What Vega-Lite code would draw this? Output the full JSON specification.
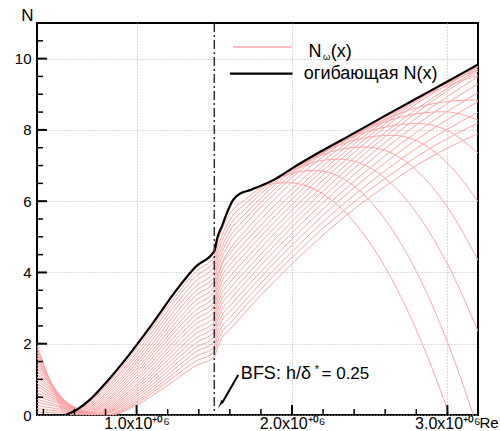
{
"$schema":"https://vega.github.io/schema/vega-lite/v6.json",
"width":441,"height":392,
"autosize":{"type":"none"},
"padding":{"left":37,"top":23,"right":22,"bottom":16},
"background":"white",
"config":{"view":{"stroke":"black","strokeWidth":2},
"axis":{"labelFont":"Liberation Sans","titleFont":"Liberation Sans","labelColor":"#000","titleColor":"#000","titleFontWeight":"normal","tickColor":"#000"}},
"datasets":{
"curves":[
{"c":0,"x":0.36,"n":1.95},{"c":0,"x":0.42,"n":1.21},{"c":0,"x":0.48,"n":0.56},{"c":0,"x":0.55,"n":0},{"c":0,"x":0.62,"n":0.16},{"c":0,"x":0.7,"n":0.43},{"c":0,"x":0.8,"n":0.89},{"c":0,"x":0.95,"n":1.68},{"c":0,"x":1.1,"n":2.55},{"c":0,"x":1.25,"n":3.47},{"c":0,"x":1.38,"n":4.16},{"c":0,"x":1.5,"n":4.6},{"c":0,"x":1.52,"n":4.98},{"c":0,"x":1.55,"n":5.31},{"c":0,"x":1.6,"n":5.84},{"c":0,"x":1.7,"n":6.27},{"c":0,"x":1.8,"n":6.42},{"c":0,"x":1.9,"n":6.5},{"c":0,"x":1.97,"n":6.52},{"c":0,"x":2.05,"n":6.48},{"c":0,"x":2.2,"n":6.2},{"c":0,"x":2.4,"n":5.41},{"c":0,"x":2.6,"n":4.14},{"c":0,"x":2.8,"n":2.39},{"c":0,"x":3.0,"n":0.15},{"c":0,"x":3.2,"n":-2.56},
{"c":1,"x":0.36,"n":1.86},{"c":1,"x":0.42,"n":1.2},{"c":1,"x":0.48,"n":0.61},{"c":1,"x":0.55,"n":0.07},{"c":1,"x":0.564,"n":0},{"c":1,"x":0.62,"n":0.12},{"c":1,"x":0.7,"n":0.37},{"c":1,"x":0.8,"n":0.81},{"c":1,"x":0.95,"n":1.58},{"c":1,"x":1.1,"n":2.44},{"c":1,"x":1.25,"n":3.34},{"c":1,"x":1.38,"n":4.02},{"c":1,"x":1.5,"n":4.46},{"c":1,"x":1.52,"n":4.83},{"c":1,"x":1.55,"n":5.22},{"c":1,"x":1.6,"n":5.64},{"c":1,"x":1.7,"n":6.05},{"c":1,"x":1.8,"n":6.38},{"c":1,"x":1.9,"n":6.62},{"c":1,"x":2.05,"n":6.83},{"c":1,"x":2.14,"n":6.86},{"c":1,"x":2.2,"n":6.84},{"c":1,"x":2.4,"n":6.42},{"c":1,"x":2.6,"n":5.48},{"c":1,"x":2.8,"n":4.03},{"c":1,"x":3.0,"n":2.05},{"c":1,"x":3.2,"n":-0.44},
{"c":2,"x":0.36,"n":1.77},{"c":2,"x":0.42,"n":1.19},{"c":2,"x":0.48,"n":0.65},{"c":2,"x":0.55,"n":0.14},{"c":2,"x":0.578,"n":0},{"c":2,"x":0.62,"n":0.09},{"c":2,"x":0.7,"n":0.32},{"c":2,"x":0.8,"n":0.74},{"c":2,"x":0.95,"n":1.48},{"c":2,"x":1.1,"n":2.33},{"c":2,"x":1.25,"n":3.22},{"c":2,"x":1.38,"n":3.89},{"c":2,"x":1.5,"n":4.32},{"c":2,"x":1.52,"n":4.67},{"c":2,"x":1.55,"n":5.04},{"c":2,"x":1.6,"n":5.48},{"c":2,"x":1.7,"n":5.93},{"c":2,"x":1.8,"n":6.31},{"c":2,"x":1.9,"n":6.62},{"c":2,"x":2.05,"n":6.96},{"c":2,"x":2.2,"n":7.15},{"c":2,"x":2.3,"n":7.18},{"c":2,"x":2.4,"n":7.12},{"c":2,"x":2.6,"n":6.64},{"c":2,"x":2.8,"n":5.68},{"c":2,"x":3.0,"n":4.24},{"c":2,"x":3.2,"n":2.32},
{"c":3,"x":0.36,"n":1.68},{"c":3,"x":0.42,"n":1.16},{"c":3,"x":0.48,"n":0.67},{"c":3,"x":0.55,"n":0.19},{"c":3,"x":0.591,"n":0},{"c":3,"x":0.62,"n":0.06},{"c":3,"x":0.7,"n":0.27},{"c":3,"x":0.8,"n":0.67},{"c":3,"x":0.95,"n":1.4},{"c":3,"x":1.1,"n":2.22},{"c":3,"x":1.25,"n":3.09},{"c":3,"x":1.38,"n":3.75},{"c":3,"x":1.5,"n":4.18},{"c":3,"x":1.52,"n":4.52},{"c":3,"x":1.55,"n":4.89},{"c":3,"x":1.6,"n":5.32},{"c":3,"x":1.7,"n":5.79},{"c":3,"x":1.8,"n":6.21},{"c":3,"x":1.9,"n":6.57},{"c":3,"x":2.05,"n":7.01},{"c":3,"x":2.2,"n":7.31},{"c":3,"x":2.4,"n":7.51},{"c":3,"x":2.47,"n":7.52},{"c":3,"x":2.6,"n":7.42},{"c":3,"x":2.8,"n":6.87},{"c":3,"x":3.0,"n":5.83},{"c":3,"x":3.2,"n":4.32},
{"c":4,"x":0.36,"n":1.6},{"c":4,"x":0.42,"n":1.12},{"c":4,"x":0.48,"n":0.69},{"c":4,"x":0.55,"n":0.25},{"c":4,"x":0.605,"n":0},{"c":4,"x":0.62,"n":0.03},{"c":4,"x":0.7,"n":0.22},{"c":4,"x":0.8,"n":0.6},{"c":4,"x":0.95,"n":1.3},{"c":4,"x":1.1,"n":2.11},{"c":4,"x":1.25,"n":2.97},{"c":4,"x":1.38,"n":3.61},{"c":4,"x":1.5,"n":4.03},{"c":4,"x":1.52,"n":4.37},{"c":4,"x":1.55,"n":4.72},{"c":4,"x":1.6,"n":5.16},{"c":4,"x":1.7,"n":5.65},{"c":4,"x":1.8,"n":6.09},{"c":4,"x":1.9,"n":6.49},{"c":4,"x":2.05,"n":6.98},{"c":4,"x":2.2,"n":7.37},{"c":4,"x":2.4,"n":7.71},{"c":4,"x":2.64,"n":7.85},{"c":4,"x":2.8,"n":7.7},{"c":4,"x":3.0,"n":7.07},{"c":4,"x":3.2,"n":5.97},
{"c":5,"x":0.36,"n":1.51},{"c":5,"x":0.42,"n":1.08},{"c":5,"x":0.48,"n":0.69},{"c":5,"x":0.55,"n":0.29},{"c":5,"x":0.62,"n":0},{"c":5,"x":0.7,"n":0.18},{"c":5,"x":0.8,"n":0.53},{"c":5,"x":0.95,"n":1.22},{"c":5,"x":1.1,"n":2.0},{"c":5,"x":1.25,"n":2.84},{"c":5,"x":1.38,"n":3.48},{"c":5,"x":1.5,"n":3.89},{"c":5,"x":1.52,"n":4.22},{"c":5,"x":1.55,"n":4.58},{"c":5,"x":1.6,"n":5.0},{"c":5,"x":1.7,"n":5.51},{"c":5,"x":1.8,"n":5.97},{"c":5,"x":1.9,"n":6.38},{"c":5,"x":2.05,"n":6.93},{"c":5,"x":2.2,"n":7.37},{"c":5,"x":2.4,"n":7.82},{"c":5,"x":2.6,"n":8.08},{"c":5,"x":2.81,"n":8.18},{"c":5,"x":3.0,"n":7.98},{"c":5,"x":3.2,"n":7.34},
{"c":6,"x":0.36,"n":1.42},{"c":6,"x":0.42,"n":1.04},{"c":6,"x":0.48,"n":0.69},{"c":6,"x":0.55,"n":0.32},{"c":6,"x":0.62,"n":0.03},{"c":6,"x":0.633,"n":0},{"c":6,"x":0.7,"n":0.14},{"c":6,"x":0.8,"n":0.47},{"c":6,"x":0.95,"n":1.13},{"c":6,"x":1.1,"n":1.9},{"c":6,"x":1.25,"n":2.72},{"c":6,"x":1.38,"n":3.35},{"c":6,"x":1.5,"n":3.75},{"c":6,"x":1.52,"n":4.08},{"c":6,"x":1.55,"n":4.43},{"c":6,"x":1.6,"n":4.85},{"c":6,"x":1.7,"n":5.36},{"c":6,"x":1.8,"n":5.84},{"c":6,"x":1.9,"n":6.27},{"c":6,"x":2.05,"n":6.85},{"c":6,"x":2.2,"n":7.34},{"c":6,"x":2.4,"n":7.86},{"c":6,"x":2.6,"n":8.23},{"c":6,"x":2.8,"n":8.45},{"c":6,"x":2.98,"n":8.51},{"c":6,"x":3.2,"n":8.27},
{"c":7,"x":0.36,"n":1.33},{"c":7,"x":0.42,"n":0.99},{"c":7,"x":0.48,"n":0.68},{"c":7,"x":0.55,"n":0.34},{"c":7,"x":0.62,"n":0.07},{"c":7,"x":0.647,"n":0},{"c":7,"x":0.7,"n":0.1},{"c":7,"x":0.8,"n":0.4},{"c":7,"x":0.95,"n":1.05},{"c":7,"x":1.1,"n":1.79},{"c":7,"x":1.25,"n":2.59},{"c":7,"x":1.38,"n":3.21},{"c":7,"x":1.5,"n":3.61},{"c":7,"x":1.52,"n":3.92},{"c":7,"x":1.55,"n":4.27},{"c":7,"x":1.6,"n":4.65},{"c":7,"x":1.7,"n":5.17},{"c":7,"x":1.8,"n":5.66},{"c":7,"x":1.9,"n":6.11},{"c":7,"x":2.05,"n":6.72},{"c":7,"x":2.2,"n":7.25},{"c":7,"x":2.4,"n":7.85},{"c":7,"x":2.6,"n":8.3},{"c":7,"x":2.8,"n":8.62},{"c":7,"x":3.0,"n":8.8},{"c":7,"x":3.16,"n":8.84},{"c":7,"x":3.2,"n":8.83},
{"c":8,"x":0.36,"n":1.24},{"c":8,"x":0.42,"n":0.94},{"c":8,"x":0.48,"n":0.66},{"c":8,"x":0.55,"n":0.35},{"c":8,"x":0.62,"n":0.1},{"c":8,"x":0.66,"n":0},{"c":8,"x":0.7,"n":0.07},{"c":8,"x":0.8,"n":0.35},{"c":8,"x":0.95,"n":0.97},{"c":8,"x":1.1,"n":1.7},{"c":8,"x":1.25,"n":2.47},{"c":8,"x":1.38,"n":3.08},{"c":8,"x":1.5,"n":3.47},{"c":8,"x":1.52,"n":3.82},{"c":8,"x":1.55,"n":4.22},{"c":8,"x":1.6,"n":4.54},{"c":8,"x":1.7,"n":5.03},{"c":8,"x":1.8,"n":5.49},{"c":8,"x":1.9,"n":5.93},{"c":8,"x":2.05,"n":6.55},{"c":8,"x":2.2,"n":7.12},{"c":8,"x":2.4,"n":7.79},{"c":8,"x":2.6,"n":8.37},{"c":8,"x":2.8,"n":8.85},{"c":8,"x":3.0,"n":9.24},{"c":8,"x":3.2,"n":9.54},
{"c":9,"x":0.36,"n":1.15},{"c":9,"x":0.42,"n":0.88},{"c":9,"x":0.48,"n":0.63},{"c":9,"x":0.55,"n":0.36},{"c":9,"x":0.62,"n":0.13},{"c":9,"x":0.674,"n":0},{"c":9,"x":0.7,"n":0.04},{"c":9,"x":0.8,"n":0.3},{"c":9,"x":0.95,"n":0.89},{"c":9,"x":1.1,"n":1.6},{"c":9,"x":1.25,"n":2.35},{"c":9,"x":1.38,"n":2.94},{"c":9,"x":1.5,"n":3.33},{"c":9,"x":1.52,"n":3.67},{"c":9,"x":1.55,"n":4.06},{"c":9,"x":1.6,"n":4.37},{"c":9,"x":1.7,"n":4.86},{"c":9,"x":1.8,"n":5.33},{"c":9,"x":1.9,"n":5.78},{"c":9,"x":2.05,"n":6.41},{"c":9,"x":2.2,"n":6.99},{"c":9,"x":2.4,"n":7.7},{"c":9,"x":2.6,"n":8.32},{"c":9,"x":2.8,"n":8.86},{"c":9,"x":3.0,"n":9.32},{"c":9,"x":3.2,"n":9.69},
{"c":10,"x":0.36,"n":1.06},{"c":10,"x":0.42,"n":0.83},{"c":10,"x":0.48,"n":0.6},{"c":10,"x":0.55,"n":0.36},{"c":10,"x":0.62,"n":0.15},{"c":10,"x":0.688,"n":0},{"c":10,"x":0.7,"n":0.02},{"c":10,"x":0.8,"n":0.25},{"c":10,"x":0.95,"n":0.81},{"c":10,"x":1.1,"n":1.49},{"c":10,"x":1.25,"n":2.23},{"c":10,"x":1.38,"n":2.81},{"c":10,"x":1.5,"n":3.19},{"c":10,"x":1.52,"n":3.52},{"c":10,"x":1.55,"n":3.9},{"c":10,"x":1.6,"n":4.21},{"c":10,"x":1.7,"n":4.7},{"c":10,"x":1.8,"n":5.17},{"c":10,"x":1.9,"n":5.62},{"c":10,"x":2.05,"n":6.27},{"c":10,"x":2.2,"n":6.87},{"c":10,"x":2.4,"n":7.6},{"c":10,"x":2.6,"n":8.26},{"c":10,"x":2.8,"n":8.84},{"c":10,"x":3.0,"n":9.35},{"c":10,"x":3.2,"n":9.78},
{"c":11,"x":0.36,"n":0.98},{"c":11,"x":0.42,"n":0.77},{"c":11,"x":0.48,"n":0.57},{"c":11,"x":0.55,"n":0.35},{"c":11,"x":0.62,"n":0.16},{"c":11,"x":0.7,"n":0},{"c":11,"x":0.8,"n":0.2},{"c":11,"x":0.95,"n":0.74},{"c":11,"x":1.1,"n":1.4},{"c":11,"x":1.25,"n":2.11},{"c":11,"x":1.38,"n":2.68},{"c":11,"x":1.5,"n":3.05},{"c":11,"x":1.52,"n":3.38},{"c":11,"x":1.55,"n":3.75},{"c":11,"x":1.6,"n":4.05},{"c":11,"x":1.7,"n":4.54},{"c":11,"x":1.8,"n":5.02},{"c":11,"x":1.9,"n":5.47},{"c":11,"x":2.05,"n":6.12},{"c":11,"x":2.2,"n":6.74},{"c":11,"x":2.4,"n":7.49},{"c":11,"x":2.6,"n":8.18},{"c":11,"x":2.8,"n":8.8},{"c":11,"x":3.0,"n":9.33},{"c":11,"x":3.2,"n":9.8},
{"c":12,"x":0.36,"n":0.89},{"c":12,"x":0.42,"n":0.7},{"c":12,"x":0.48,"n":0.53},{"c":12,"x":0.55,"n":0.34},{"c":12,"x":0.62,"n":0.17},{"c":12,"x":0.7,"n":0.02},{"c":12,"x":0.716,"n":0},{"c":12,"x":0.8,"n":0.16},{"c":12,"x":0.95,"n":0.66},{"c":12,"x":1.1,"n":1.3},{"c":12,"x":1.25,"n":1.99},{"c":12,"x":1.38,"n":2.55},{"c":12,"x":1.5,"n":2.9},{"c":12,"x":1.52,"n":3.23},{"c":12,"x":1.55,"n":3.59},{"c":12,"x":1.6,"n":3.88},{"c":12,"x":1.7,"n":4.37},{"c":12,"x":1.8,"n":4.85},{"c":12,"x":1.9,"n":5.31},{"c":12,"x":2.05,"n":5.97},{"c":12,"x":2.2,"n":6.59},{"c":12,"x":2.4,"n":7.37},{"c":12,"x":2.6,"n":8.08},{"c":12,"x":2.8,"n":8.73},{"c":12,"x":3.0,"n":9.27},{"c":12,"x":3.2,"n":9.76},
{"c":13,"x":0.36,"n":0.8},{"c":13,"x":0.42,"n":0.64},{"c":13,"x":0.48,"n":0.49},{"c":13,"x":0.55,"n":0.32},{"c":13,"x":0.62,"n":0.17},{"c":13,"x":0.7,"n":0.03},{"c":13,"x":0.729,"n":0},{"c":13,"x":0.8,"n":0.12},{"c":13,"x":0.95,"n":0.6},{"c":13,"x":1.1,"n":1.21},{"c":13,"x":1.25,"n":1.88},{"c":13,"x":1.38,"n":2.41},{"c":13,"x":1.5,"n":2.76},{"c":13,"x":1.52,"n":3.08},{"c":13,"x":1.55,"n":3.43},{"c":13,"x":1.6,"n":3.72},{"c":13,"x":1.7,"n":4.21},{"c":13,"x":1.8,"n":4.69},{"c":13,"x":1.9,"n":5.15},{"c":13,"x":2.05,"n":5.81},{"c":13,"x":2.2,"n":6.44},{"c":13,"x":2.4,"n":7.22},{"c":13,"x":2.6,"n":7.93},{"c":13,"x":2.8,"n":8.58},{"c":13,"x":3.0,"n":9.17},{"c":13,"x":3.2,"n":9.7},
{"c":14,"x":0.36,"n":0.71},{"c":14,"x":0.42,"n":0.57},{"c":14,"x":0.48,"n":0.44},{"c":14,"x":0.55,"n":0.3},{"c":14,"x":0.62,"n":0.17},{"c":14,"x":0.7,"n":0.05},{"c":14,"x":0.743,"n":0},{"c":14,"x":0.8,"n":0.09},{"c":14,"x":0.95,"n":0.53},{"c":14,"x":1.1,"n":1.12},{"c":14,"x":1.25,"n":1.76},{"c":14,"x":1.38,"n":2.28},{"c":14,"x":1.5,"n":2.62},{"c":14,"x":1.52,"n":2.93},{"c":14,"x":1.55,"n":3.27},{"c":14,"x":1.6,"n":3.55},{"c":14,"x":1.7,"n":4.04},{"c":14,"x":1.8,"n":4.52},{"c":14,"x":1.9,"n":4.98},{"c":14,"x":2.05,"n":5.65},{"c":14,"x":2.2,"n":6.28},{"c":14,"x":2.4,"n":7.08},{"c":14,"x":2.6,"n":7.81},{"c":14,"x":2.8,"n":8.48},{"c":14,"x":3.0,"n":9.1},{"c":14,"x":3.2,"n":9.65},
{"c":15,"x":0.36,"n":0.62},{"c":15,"x":0.42,"n":0.51},{"c":15,"x":0.48,"n":0.4},{"c":15,"x":0.55,"n":0.28},{"c":15,"x":0.62,"n":0.16},{"c":15,"x":0.7,"n":0.06},{"c":15,"x":0.757,"n":0},{"c":15,"x":0.8,"n":0.06},{"c":15,"x":0.95,"n":0.47},{"c":15,"x":1.1,"n":1.03},{"c":15,"x":1.25,"n":1.64},{"c":15,"x":1.38,"n":2.15},{"c":15,"x":1.5,"n":2.48},{"c":15,"x":1.52,"n":2.78},{"c":15,"x":1.55,"n":3.12},{"c":15,"x":1.6,"n":3.39},{"c":15,"x":1.7,"n":3.88},{"c":15,"x":1.8,"n":4.36},{"c":15,"x":1.9,"n":4.82},{"c":15,"x":2.05,"n":5.49},{"c":15,"x":2.2,"n":6.12},{"c":15,"x":2.4,"n":6.92},{"c":15,"x":2.6,"n":7.65},{"c":15,"x":2.8,"n":8.33},{"c":15,"x":3.0,"n":8.94},{"c":15,"x":3.2,"n":9.5},
{"c":16,"x":0.36,"n":0.53},{"c":16,"x":0.42,"n":0.44},{"c":16,"x":0.48,"n":0.35},{"c":16,"x":0.55,"n":0.25},{"c":16,"x":0.62,"n":0.15},{"c":16,"x":0.7,"n":0.06},{"c":16,"x":0.771,"n":0},{"c":16,"x":0.8,"n":0.04},{"c":16,"x":0.95,"n":0.41},{"c":16,"x":1.1,"n":0.94},{"c":16,"x":1.25,"n":1.53},{"c":16,"x":1.38,"n":2.02},{"c":16,"x":1.5,"n":2.34},{"c":16,"x":1.52,"n":2.63},{"c":16,"x":1.55,"n":2.96},{"c":16,"x":1.6,"n":3.23},{"c":16,"x":1.7,"n":3.72},{"c":16,"x":1.8,"n":4.2},{"c":16,"x":1.9,"n":4.66},{"c":16,"x":2.05,"n":5.33},{"c":16,"x":2.2,"n":5.96},{"c":16,"x":2.4,"n":6.75},{"c":16,"x":2.6,"n":7.48},{"c":16,"x":2.8,"n":8.14},{"c":16,"x":3.0,"n":8.75},{"c":16,"x":3.2,"n":9.3},
{"c":17,"x":0.36,"n":0.44},{"c":17,"x":0.42,"n":0.37},{"c":17,"x":0.48,"n":0.29},{"c":17,"x":0.55,"n":0.21},{"c":17,"x":0.62,"n":0.14},{"c":17,"x":0.7,"n":0.06},{"c":17,"x":0.785,"n":0},{"c":17,"x":0.8,"n":0.02},{"c":17,"x":0.95,"n":0.35},{"c":17,"x":1.1,"n":0.85},{"c":17,"x":1.25,"n":1.42},{"c":17,"x":1.38,"n":1.89},{"c":17,"x":1.5,"n":2.2},{"c":17,"x":1.52,"n":2.48},{"c":17,"x":1.55,"n":2.8},{"c":17,"x":1.6,"n":3.06},{"c":17,"x":1.7,"n":3.55},{"c":17,"x":1.8,"n":4.03},{"c":17,"x":1.9,"n":4.49},{"c":17,"x":2.05,"n":5.15},{"c":17,"x":2.2,"n":5.78},{"c":17,"x":2.4,"n":6.56},{"c":17,"x":2.6,"n":7.28},{"c":17,"x":2.8,"n":7.93},{"c":17,"x":3.0,"n":8.52},{"c":17,"x":3.2,"n":9.05},
{"c":18,"x":0.36,"n":0.36},{"c":18,"x":0.42,"n":0.3},{"c":18,"x":0.48,"n":0.24},{"c":18,"x":0.55,"n":0.17},{"c":18,"x":0.62,"n":0.12},{"c":18,"x":0.7,"n":0.05},{"c":18,"x":0.8,"n":0},{"c":18,"x":0.95,"n":0.3},{"c":18,"x":1.1,"n":0.77},{"c":18,"x":1.25,"n":1.31},{"c":18,"x":1.38,"n":1.77},{"c":18,"x":1.5,"n":2.06},{"c":18,"x":1.52,"n":2.33},{"c":18,"x":1.55,"n":2.65},{"c":18,"x":1.6,"n":2.9},{"c":18,"x":1.7,"n":3.39},{"c":18,"x":1.8,"n":3.87},{"c":18,"x":1.9,"n":4.33},{"c":18,"x":2.05,"n":4.98},{"c":18,"x":2.2,"n":5.61},{"c":18,"x":2.4,"n":6.38},{"c":18,"x":2.6,"n":7.08},{"c":18,"x":2.8,"n":7.72},{"c":18,"x":3.0,"n":8.29},{"c":18,"x":3.2,"n":8.8},
{"c":19,"x":0.36,"n":0.27},{"c":19,"x":0.42,"n":0.22},{"c":19,"x":0.48,"n":0.18},{"c":19,"x":0.55,"n":0.14},{"c":19,"x":0.62,"n":0.09},{"c":19,"x":0.7,"n":0.05},{"c":19,"x":0.812,"n":0},{"c":19,"x":0.95,"n":0.25},{"c":19,"x":1.1,"n":0.69},{"c":19,"x":1.25,"n":1.2},{"c":19,"x":1.38,"n":1.64},{"c":19,"x":1.5,"n":1.91},{"c":19,"x":1.52,"n":2.18},{"c":19,"x":1.55,"n":2.48},{"c":19,"x":1.6,"n":2.73},{"c":19,"x":1.7,"n":3.22},{"c":19,"x":1.8,"n":3.7},{"c":19,"x":1.9,"n":4.15},{"c":19,"x":2.05,"n":4.8},{"c":19,"x":2.2,"n":5.42},{"c":19,"x":2.4,"n":6.17},{"c":19,"x":2.6,"n":6.86},{"c":19,"x":2.8,"n":7.48},{"c":19,"x":3.0,"n":8.02},{"c":19,"x":3.2,"n":8.5},
{"c":20,"x":0.36,"n":0.18},{"c":20,"x":0.42,"n":0.15},{"c":20,"x":0.48,"n":0.12},{"c":20,"x":0.55,"n":0.09},{"c":20,"x":0.62,"n":0.06},{"c":20,"x":0.7,"n":0.03},{"c":20,"x":0.826,"n":0},{"c":20,"x":0.95,"n":0.21},{"c":20,"x":1.1,"n":0.62},{"c":20,"x":1.25,"n":1.1},{"c":20,"x":1.38,"n":1.51},{"c":20,"x":1.5,"n":1.77},{"c":20,"x":1.52,"n":2.04},{"c":20,"x":1.55,"n":2.33},{"c":20,"x":1.6,"n":2.57},{"c":20,"x":1.7,"n":3.06},{"c":20,"x":1.8,"n":3.53},{"c":20,"x":1.9,"n":3.99},{"c":20,"x":2.05,"n":4.63},{"c":20,"x":2.2,"n":5.24},{"c":20,"x":2.4,"n":5.98},{"c":20,"x":2.6,"n":6.64},{"c":20,"x":2.8,"n":7.24},{"c":20,"x":3.0,"n":7.76},{"c":20,"x":3.2,"n":8.2},
{"c":21,"x":0.36,"n":0.09},{"c":21,"x":0.42,"n":0.07},{"c":21,"x":0.48,"n":0.06},{"c":21,"x":0.55,"n":0.05},{"c":21,"x":0.62,"n":0.03},{"c":21,"x":0.7,"n":0.02},{"c":21,"x":0.84,"n":0},{"c":21,"x":0.95,"n":0.17},{"c":21,"x":1.1,"n":0.54},{"c":21,"x":1.25,"n":0.99},{"c":21,"x":1.38,"n":1.38},{"c":21,"x":1.5,"n":1.63},{"c":21,"x":1.52,"n":1.88},{"c":21,"x":1.55,"n":2.17},{"c":21,"x":1.6,"n":2.4},{"c":21,"x":1.7,"n":2.89},{"c":21,"x":1.8,"n":3.36},{"c":21,"x":1.9,"n":3.81},{"c":21,"x":2.05,"n":4.45},{"c":21,"x":2.2,"n":5.05},{"c":21,"x":2.4,"n":5.78},{"c":21,"x":2.6,"n":6.42},{"c":21,"x":2.8,"n":7.0},{"c":21,"x":3.0,"n":7.49},{"c":21,"x":3.2,"n":7.9}
],
"env":[
{"x":0.545,"n":0},{"x":0.62,"n":0.16},{"x":0.7,"n":0.43},{"x":0.8,"n":0.89},{"x":0.95,"n":1.68},{"x":1.1,"n":2.55},{"x":1.25,"n":3.47},{"x":1.38,"n":4.16},{"x":1.5,"n":4.6},{"x":1.52,"n":4.98},{"x":1.55,"n":5.31},{"x":1.58,"n":5.66},{"x":1.62,"n":6.03},{"x":1.66,"n":6.2},{"x":1.73,"n":6.31},{"x":1.8,"n":6.43},{"x":1.9,"n":6.64},{"x":2.0,"n":6.92},{"x":2.2,"n":7.43},{"x":2.4,"n":7.91},{"x":2.6,"n":8.4},{"x":2.8,"n":8.88},{"x":3.0,"n":9.36},{"x":3.2,"n":9.84}
],
"xmaj":[{"v":1},{"v":2},{"v":3}],
"xmin":[{"v":0.4},{"v":0.6},{"v":0.8},{"v":1.2},{"v":1.4},{"v":1.6},{"v":1.8},{"v":2.2},{"v":2.4},{"v":2.6},{"v":2.8}],
"ymaj":[{"v":2},{"v":4},{"v":6},{"v":8},{"v":10}],
"ymin":[{"v":0.5},{"v":1},{"v":1.5},{"v":2.5},{"v":3},{"v":3.5},{"v":4.5},{"v":5},{"v":5.5},{"v":6.5},{"v":7},{"v":7.5},{"v":8.5},{"v":9},{"v":9.5},{"v":10.5}],
"one":[{}]},
"resolve":{"axis":{"x":"independent","y":"independent"}},
"layer":[
{"data":{"name":"curves"},
"mark":{"type":"line","stroke":"#ffa4a4","strokeWidth":1,"interpolate":"monotone","clip":true},
"encoding":{
"x":{"field":"x","type":"quantitative","scale":{"domain":[0.359,3.197],"nice":false,"zero":false},
"axis":{"orient":"bottom","values":[1,2,3],"labelExpr":"format(datum.value,'.1f')+'x10⁺⁰⁶'","labelFontSize":16,"labelPadding":0,"labelFlush":false,"labelOverlap":false,"ticks":false,"domain":false,"grid":true,"gridColor":"#b4b4b4","gridDash":[1,2],"gridWidth":1,"title":"Re","titleFontSize":15,"titleX":442,"titleY":12,"titleAlign":"left","titleBaseline":"alphabetic","titleAnchor":null}},
"y":{"field":"n","type":"quantitative","scale":{"domain":[0,11],"nice":false},
"axis":{"orient":"left","values":[0,2,4,6,8,10],"labelFontSize":15,"labelPadding":6,"ticks":false,"domain":false,"grid":true,"gridColor":"#b4b4b4","gridDash":[1,2],"gridWidth":1,"title":"N","titleAngle":0,"titleFontSize":17,"titleX":-10,"titleY":-3,"titleAlign":"center","titleBaseline":"alphabetic","titleAnchor":null}},
"detail":{"field":"c","type":"nominal"}}},
{"data":{"name":"env"},
"mark":{"type":"line","stroke":"black","strokeWidth":2.2,"interpolate":"monotone","clip":true},
"encoding":{"x":{"field":"x","type":"quantitative","axis":null},"y":{"field":"n","type":"quantitative","axis":null}}},
{"data":{"name":"xmaj"},"mark":{"type":"rule","stroke":"black","strokeWidth":2},
"encoding":{"x":{"field":"v","type":"quantitative","axis":null},"y":{"datum":0,"type":"quantitative","axis":null},"y2":{"datum":0.28}}},
{"data":{"name":"xmin"},"mark":{"type":"rule","stroke":"black","strokeWidth":1.5},
"encoding":{"x":{"field":"v","type":"quantitative","axis":null},"y":{"datum":0,"type":"quantitative","axis":null},"y2":{"datum":0.17}}},
{"data":{"name":"ymaj"},"mark":{"type":"rule","stroke":"black","strokeWidth":2},
"encoding":{"y":{"field":"v","type":"quantitative","axis":null},"x":{"datum":0.359,"type":"quantitative","axis":null},"x2":{"datum":0.423}}},
{"data":{"name":"ymin"},"mark":{"type":"rule","stroke":"black","strokeWidth":1.5},
"encoding":{"y":{"field":"v","type":"quantitative","axis":null},"x":{"datum":0.359,"type":"quantitative","axis":null},"x2":{"datum":0.398}}},
{"data":{"name":"one"},
"mark":{"type":"rule","stroke":"#303030","strokeWidth":1.5,"strokeDash":[9,3,2,3]},
"encoding":{"x":{"datum":1.5,"type":"quantitative","axis":null}}},
{"data":{"name":"one"},
"mark":{"type":"rule","stroke":"black","strokeWidth":2},
"encoding":{"x":{"datum":1.654,"type":"quantitative","axis":null},"y":{"datum":1.12,"type":"quantitative","axis":null},"x2":{"datum":1.549},"y2":{"datum":0.33}}},
{"data":{"name":"one"},
"mark":{"type":"point","shape":"wedge","filled":true,"color":"black","size":110,"angle":210,"opacity":1},
"encoding":{"x":{"datum":1.543,"type":"quantitative","axis":null},"y":{"datum":0.33,"type":"quantitative","axis":null}}},
{"data":{"name":"one"},
"mark":{"type":"text","text":"BFS: h/δ","font":"Liberation Sans","fontSize":18,"align":"left","baseline":"alphabetic","color":"black"},
"encoding":{"x":{"datum":1.671,"type":"quantitative","axis":null},"y":{"datum":1.023,"type":"quantitative","axis":null}}},
{"data":{"name":"one"},
"mark":{"type":"text","text":"*","font":"Liberation Sans","fontSize":11,"align":"left","baseline":"alphabetic","color":"black"},
"encoding":{"x":{"datum":2.146,"type":"quantitative","axis":null},"y":{"datum":1.17,"type":"quantitative","axis":null}}},
{"data":{"name":"one"},
"mark":{"type":"text","text":"= 0.25","font":"Liberation Sans","fontSize":17,"align":"left","baseline":"alphabetic","color":"black"},
"encoding":{"x":{"datum":2.19,"type":"quantitative","axis":null},"y":{"datum":1.023,"type":"quantitative","axis":null}}},
{"data":{"name":"one"},
"mark":{"type":"rule","stroke":"#ffa4a4","strokeWidth":1.5},
"encoding":{"x":{"datum":1.621,"type":"quantitative","axis":null},"x2":{"datum":1.997},"y":{"datum":10.33,"type":"quantitative","axis":null}}},
{"data":{"name":"one"},
"mark":{"type":"rule","stroke":"black","strokeWidth":2.2},
"encoding":{"x":{"datum":1.6,"type":"quantitative","axis":null},"x2":{"datum":2.003},"y":{"datum":9.58,"type":"quantitative","axis":null}}},
{"data":{"name":"one"},
"mark":{"type":"text","text":"N","font":"Liberation Sans","fontSize":18,"align":"left","baseline":"alphabetic","color":"black"},
"encoding":{"x":{"datum":2.106,"type":"quantitative","axis":null},"y":{"datum":10.05,"type":"quantitative","axis":null}}},
{"data":{"name":"one"},
"mark":{"type":"text","text":"ω","font":"Liberation Sans","fontSize":9.5,"align":"left","baseline":"alphabetic","color":"black"},
"encoding":{"x":{"datum":2.2,"type":"quantitative","axis":null},"y":{"datum":9.96,"type":"quantitative","axis":null}}},
{"data":{"name":"one"},
"mark":{"type":"text","text":"(x)","font":"Liberation Sans","fontSize":18,"align":"left","baseline":"alphabetic","color":"black"},
"encoding":{"x":{"datum":2.25,"type":"quantitative","axis":null},"y":{"datum":10.05,"type":"quantitative","axis":null}}},
{"data":{"name":"one"},
"mark":{"type":"text","text":"огибающая N(x)","font":"Liberation Sans","fontSize":18,"align":"left","baseline":"alphabetic","color":"black"},
"encoding":{"x":{"datum":2.076,"type":"quantitative","axis":null},"y":{"datum":9.43,"type":"quantitative","axis":null}}}
]
}
